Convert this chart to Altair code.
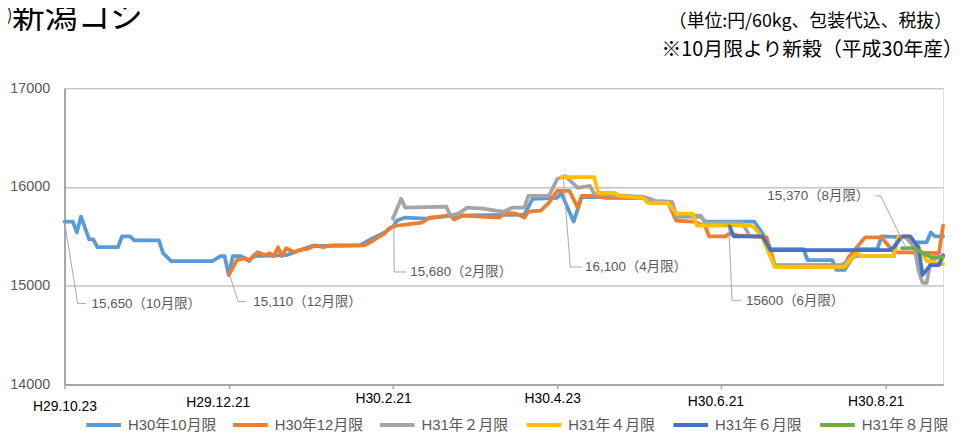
import altair as alt
import pandas as pd

# ---- axis ticks (x = trading-day index, 0 = H29.10.23) ----
tick_pos = [0, 40, 80, 120, 160, 200]
tick_labels = ["H29.10.23", "H29.12.21", "H30.2.21", "H30.4.23", "H30.6.21", "H30.8.21"]
tick_label_pad = [11, 7, 3, 3, 6, 6]
tick_label_shift = [0, -11, -10, -5, -6, -10]
y_ticks = [14000, 15000, 16000, 17000]

# ---- series ----
series_names = ["H30年10月限", "H30年12月限", "H31年２月限", "H31年４月限", "H31年６月限", "H31年８月限"]
series_colors = ["#5B9BD5", "#ED7D31", "#A5A5A5", "#FFC000", "#4472C4", "#70AD47"]

oct_x = [0, 2, 3, 4, 6, 7, 8, 13, 14, 16, 17, 23, 24, 26, 36, 38, 39, 40, 41, 43,
         45, 46, 54, 56, 60, 72, 75, 78, 80, 81, 83, 88, 90, 94, 112, 114, 120, 121, 124, 126,
         141, 143, 148, 149, 155, 156, 168, 170, 172, 180, 181, 187, 188, 190, 192, 193, 198, 199, 205, 206,
         210, 211, 212, 214]
oct_v = [15650, 15650, 15540, 15700, 15470, 15470, 15390, 15390, 15500, 15500, 15460, 15460, 15330, 15250, 15250, 15300, 15300, 15110, 15300, 15300,
         15250, 15300, 15310, 15340, 15400, 15410, 15480, 15540, 15600, 15660, 15690, 15680, 15690, 15710, 15720, 15880, 15890, 15940, 15650, 15900,
         15890, 15840, 15840, 15700, 15700, 15650, 15650, 15530, 15370, 15370, 15260, 15260, 15160, 15160, 15290, 15370, 15370, 15500, 15490, 15440,
         15440, 15540, 15500, 15500]

dec_x = [40, 42, 44, 45, 47, 49, 50, 51, 52, 53, 54, 56, 57, 59, 61, 63, 65, 73, 74, 76,
         78, 79, 81, 83, 87, 89, 94, 95, 97, 106, 107, 110, 112, 113, 116, 118, 120, 123, 125, 126,
         129, 132, 141, 143, 147, 149, 153, 156, 157, 161, 162, 164, 171, 173, 190, 191, 195, 199, 200, 202,
         213, 214]
dec_v = [15110, 15260, 15280, 15260, 15340, 15310, 15330, 15300, 15390, 15300, 15380, 15340, 15360, 15370, 15410, 15390, 15410, 15410, 15430, 15480,
         15530, 15580, 15610, 15620, 15640, 15690, 15710, 15670, 15710, 15690, 15740, 15730, 15690, 15750, 15760, 15840, 15960, 15960, 15790, 15910,
         15910, 15890, 15890, 15840, 15840, 15660, 15650, 15610, 15500, 15500, 15530, 15510, 15490, 15210, 15210, 15290, 15490, 15490, 15440, 15340,
         15330, 15610]

feb_x = [80, 82, 83, 93, 94, 96, 98, 102, 105, 107, 109, 112, 113, 118, 120, 122, 125, 128, 129, 141,
         144, 148, 149, 155, 156, 165, 167, 170, 173, 189, 192, 193, 202, 203, 205, 207, 208, 209, 210, 211,
         214]
feb_v = [15680, 15880, 15790, 15800, 15710, 15730, 15790, 15780, 15760, 15750, 15790, 15790, 15910, 15910, 16080, 16110, 15990, 16010, 15930, 15900,
         15860, 15850, 15710, 15710, 15640, 15640, 15500, 15500, 15200, 15200, 15290, 15300, 15300, 15490, 15500, 15390, 15160, 15030, 15030, 15260,
         15300]

apr_x = [121, 129, 130, 134, 135, 141, 142, 147, 149, 153, 154, 167, 168, 170, 173, 190, 191, 193, 194, 202,
         203, 206, 208, 210, 214]
apr_v = [16100, 16100, 15940, 15940, 15910, 15890, 15840, 15840, 15730, 15730, 15610, 15610, 15590, 15490, 15190, 15190, 15240, 15340, 15300, 15300,
         15490, 15500, 15390, 15250, 15220]

jun_x = [162, 163, 170, 172, 201, 202, 204, 206, 208, 209, 211, 213, 214]
jun_v = [15600, 15500, 15500, 15360, 15360, 15390, 15500, 15500, 15390, 15110, 15210, 15210, 15310]

aug_x = [204, 207, 209, 211, 214]
aug_v = [15380, 15380, 15330, 15290, 15290]

# ---- texts ----
title_text = "⑧新潟コシ"
note_unit = "（単位:円/60kg、包装代込、税抜）"
note_crop = "※10月限より新穀（平成30年産）"

ann_text = ["15,650（10月限）", "15,110（12月限）", "15,680（2月限）", "16,100（4月限）", "15600（6月限）", "15,370（8月限）"]
ann_x = [6.6, 46.0, 84.2, 126.8, 166.0, 196.0]
ann_y = [14820, 14840, 15140, 15190, 14850, 15910]
ann_align = ["left", "left", "left", "left", "left", "right"]
lead_x = [[0, 3.2, 5.3], [40.3, 42.3, 44.2], [80.2, 80.3, 83.3], [121.5, 123.2, 126.0], [161.8, 162.6, 164.7], [197.5, 198.8, 205.0]]
lead_y = [[15650, 14820, 14820], [15100, 14840, 14840], [15680, 15140, 15140], [16100, 15190, 15190], [15600, 14850, 14850], [15910, 15910, 15380]]

# ---- chart ----
W, H = 886, 299
CJK = "Noto Sans CJK JP"
MIX = "Liberation Sans, Noto Sans CJK JP"

label_expr = " : ".join(f"datum.value == {p} ? '{l}'" for p, l in zip(tick_pos, tick_labels)) + " : ''"
pad_cond = [{"test": f"datum.value == {p}", "value": v} for p, v in zip(tick_pos, tick_label_pad)]
off_cond = [{"test": f"datum.value == {p}", "value": v} for p, v in zip(tick_pos, tick_label_shift)]

x_axis = alt.Axis(values=tick_pos, labelExpr=label_expr, grid=False, title=None,
                  domainColor="#A6A6A6", domainWidth=2, tickColor="#A6A6A6", tickSize=4, tickWidth=1.5,
                  labelColor="#000000", labelFont="Liberation Sans", labelFontSize=14,
                  labelPadding={"condition": pad_cond, "value": 5},
                  labelOffset={"condition": off_cond, "value": 0},
                  labelFlush=False, labelOverlap=False)
y_axis = alt.Axis(values=y_ticks, format="d", grid=True, gridColor="#C4C4C4", gridWidth=1.5, title=None,
                  domainColor="#A6A6A6", domainWidth=2, ticks=False, labelPadding=15,
                  labelColor="#595959", labelFont="Liberation Sans", labelFontSize=14.5)

x_enc = alt.X("idx:Q", scale=alt.Scale(domain=[0, 214], nice=False, zero=False), axis=x_axis)
y_enc = alt.Y("price:Q", scale=alt.Scale(domain=[14000, 17000], nice=False, zero=False), axis=y_axis)

legend = alt.Legend(orient="none", legendX=20, legendY=320, direction="horizontal", columns=6,
                    gridAlign="all", symbolType="stroke", symbolSize=1225, symbolStrokeWidth=4,
                    labelFont=MIX, labelFontSize=15, labelColor="#595959", labelOffset=5,
                    columnPadding=8, title=None, padding=0)
color_enc = alt.Color("series:N", scale=alt.Scale(domain=series_names, range=series_colors), legend=legend)

layers = []
for name, xs, vs in zip(series_names, [oct_x, dec_x, feb_x, apr_x, jun_x, aug_x],
                        [oct_v, dec_v, feb_v, apr_v, jun_v, aug_v]):
    df = pd.DataFrame({"idx": xs, "price": vs, "series": name})
    layers.append(
        alt.Chart(df).mark_line(strokeWidth=3.8, strokeJoin="round", strokeCap="round")
        .encode(x=x_enc, y=y_enc, color=color_enc)
    )

lead_rows = []
for k, (lx, ly) in enumerate(zip(lead_x, lead_y)):
    for s, (a, b) in enumerate(zip(lx, ly)):
        lead_rows.append({"ann": k, "seq": s, "idx": a, "price": b})
lead_df = pd.DataFrame(lead_rows)
leaders = alt.Chart(lead_df).mark_line(color="#A6A6A6", strokeWidth=1).encode(
    x=x_enc, y=y_enc, detail="ann:N", order="seq:Q")

ann_df = pd.DataFrame({"text": ann_text, "idx": ann_x, "price": ann_y, "align": ann_align})
ann_left = alt.Chart(ann_df[ann_df["align"] == "left"]).mark_text(
    align="left", baseline="middle", font=MIX, fontSize=13.5, color="#595959"
).encode(x=x_enc, y=y_enc, text="text:N")
ann_right = alt.Chart(ann_df[ann_df["align"] == "right"]).mark_text(
    align="right", baseline="middle", font=MIX, fontSize=13.5, color="#595959"
).encode(x=x_enc, y=y_enc, text="text:N")

title_mark = alt.Chart(pd.DataFrame({"t": [title_text]})).mark_text(
    align="left", baseline="middle", font=CJK, fontSize=33, color="#000000"
).encode(text="t:N", x=alt.value(-86), y=alt.value(-71))
unit_mark = alt.Chart(pd.DataFrame({"t": [note_unit]})).mark_text(
    align="right", baseline="middle", font=CJK, fontSize=18, color="#000000"
).encode(text="t:N", x=alt.value(895), y=alt.value(-67))
crop_mark = alt.Chart(pd.DataFrame({"t": [note_crop]})).mark_text(
    align="right", baseline="middle", font=CJK, fontSize=20, color="#000000"
).encode(text="t:N", x=alt.value(906), y=alt.value(-38))

chart = alt.layer(*layers, leaders, ann_left, ann_right, title_mark, unit_mark, crop_mark).properties(
    width=W, height=H,
    autosize=alt.AutoSizeParams(type="none"),
    padding={"left": 57, "top": 79, "right": 9, "bottom": 48},
).configure_view(strokeWidth=0).configure(background="#FFFFFF")

chart.save("out.html", embed_options={"renderer": "svg", "actions": False})
